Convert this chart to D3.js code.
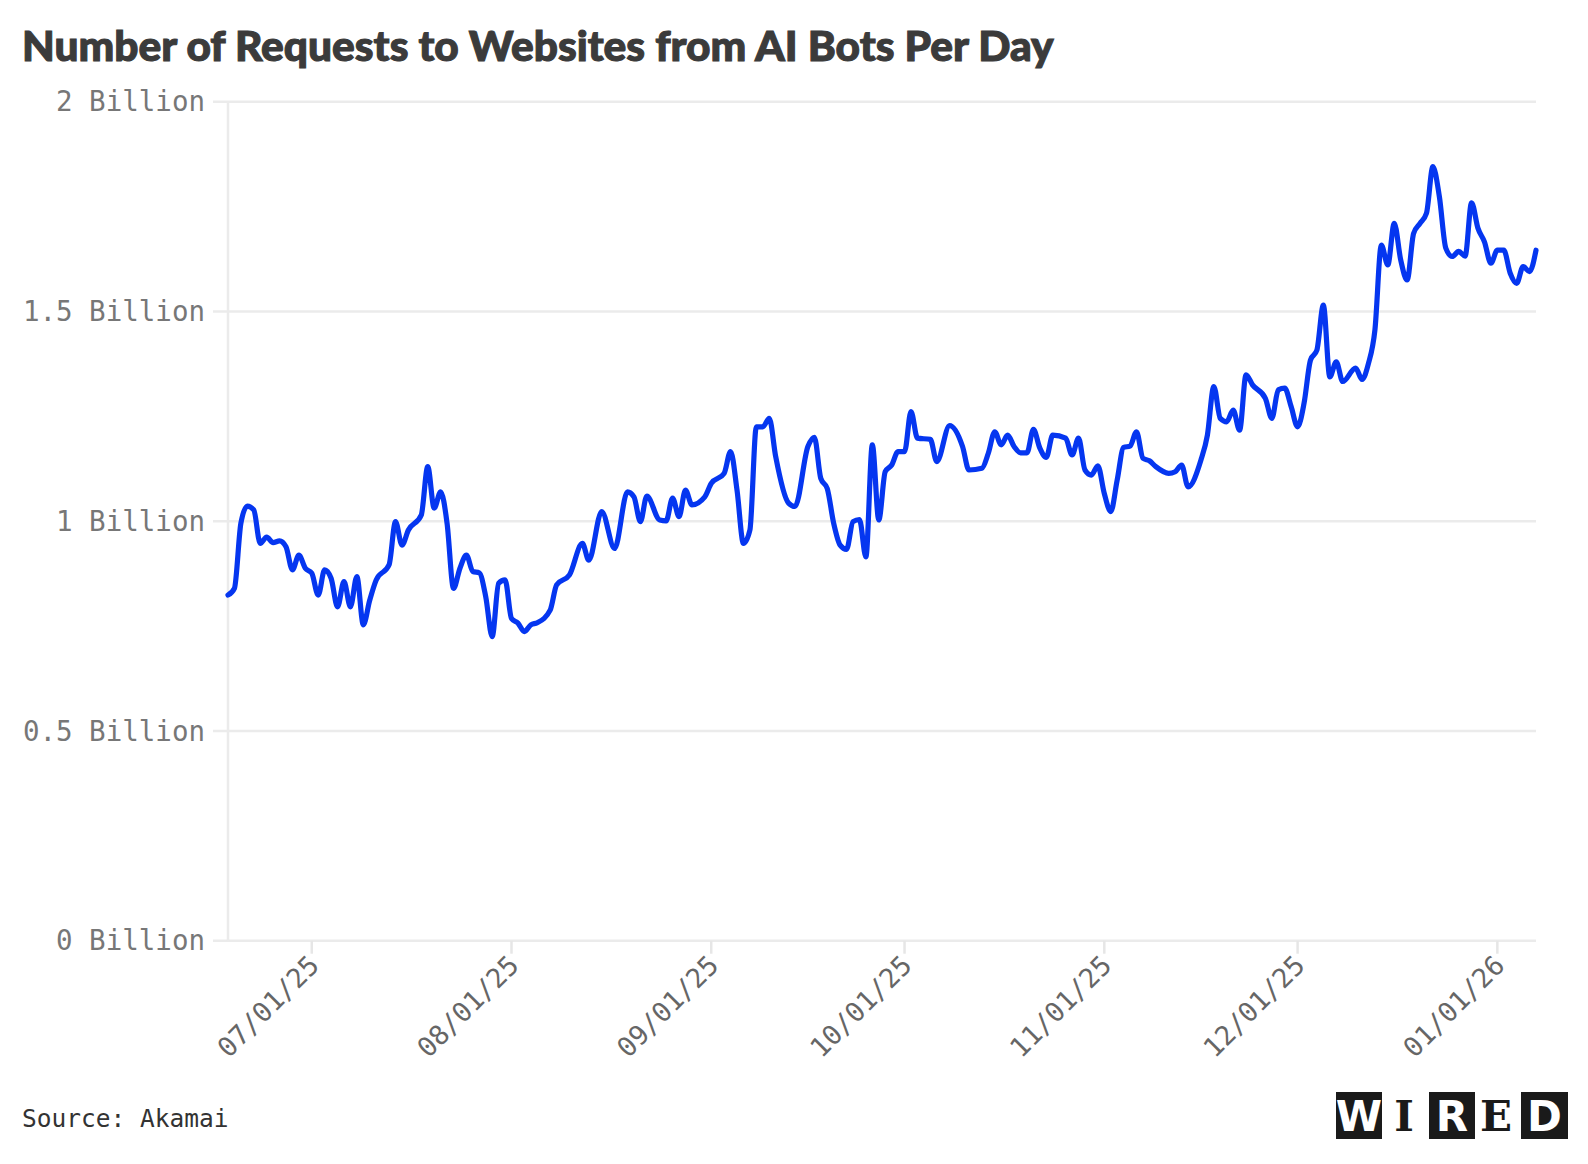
<!DOCTYPE html>
<html>
<head>
<meta charset="utf-8">
<script src="https://cdn.jsdelivr.net/npm/d3@7"></script>
<style>
    body { margin: 0; background: #fff; }
    .mono { font-family: "DejaVu Sans Mono", monospace; }
</style>
</head>
<body>
<div id="chart-area"></div>
<script>

// Data: requests per day (billions)
var dates = [
    "2025-06-18","2025-06-19","2025-06-20","2025-06-21","2025-06-22","2025-06-23","2025-06-24","2025-06-25",
    "2025-06-26","2025-06-27","2025-06-28","2025-06-29","2025-06-30","2025-07-01","2025-07-02","2025-07-03",
    "2025-07-04","2025-07-05","2025-07-06","2025-07-07","2025-07-08","2025-07-09","2025-07-10","2025-07-11",
    "2025-07-13","2025-07-14","2025-07-15","2025-07-16","2025-07-18","2025-07-19","2025-07-20","2025-07-21",
    "2025-07-22","2025-07-23","2025-07-24","2025-07-25","2025-07-26","2025-07-27","2025-07-28","2025-07-29",
    "2025-07-30","2025-07-31","2025-08-01","2025-08-02","2025-08-03","2025-08-04","2025-08-05","2025-08-07",
    "2025-08-08","2025-08-10","2025-08-12","2025-08-13","2025-08-15","2025-08-17","2025-08-19","2025-08-20",
    "2025-08-21","2025-08-22","2025-08-24","2025-08-25","2025-08-26","2025-08-27","2025-08-28","2025-08-29",
    "2025-08-31","2025-09-01","2025-09-03","2025-09-04","2025-09-05","2025-09-06","2025-09-07","2025-09-08",
    "2025-09-09","2025-09-10","2025-09-11","2025-09-13","2025-09-14","2025-09-16","2025-09-17","2025-09-18",
    "2025-09-19","2025-09-20","2025-09-21","2025-09-22","2025-09-23","2025-09-24","2025-09-25","2025-09-26",
    "2025-09-27","2025-09-28","2025-09-29","2025-09-30","2025-10-01","2025-10-02","2025-10-03","2025-10-05",
    "2025-10-06","2025-10-08","2025-10-10","2025-10-11","2025-10-13","2025-10-14","2025-10-15","2025-10-16",
    "2025-10-17","2025-10-18","2025-10-19","2025-10-20","2025-10-21","2025-10-22","2025-10-23","2025-10-24",
    "2025-10-26","2025-10-27","2025-10-28","2025-10-29","2025-10-30","2025-10-31","2025-11-01","2025-11-02",
    "2025-11-03","2025-11-04","2025-11-05","2025-11-06","2025-11-07","2025-11-08","2025-11-09","2025-11-11",
    "2025-11-12","2025-11-13","2025-11-14","2025-11-16","2025-11-17","2025-11-18","2025-11-19","2025-11-20",
    "2025-11-21","2025-11-22","2025-11-23","2025-11-24","2025-11-26","2025-11-27","2025-11-28","2025-11-29",
    "2025-11-30","2025-12-01","2025-12-02","2025-12-03","2025-12-04","2025-12-05","2025-12-06","2025-12-07",
    "2025-12-08","2025-12-10","2025-12-11","2025-12-12","2025-12-13","2025-12-14","2025-12-15","2025-12-16",
    "2025-12-17","2025-12-18","2025-12-19","2025-12-20","2025-12-21","2025-12-22","2025-12-23","2025-12-24",
    "2025-12-25","2025-12-26","2025-12-27","2025-12-28","2025-12-29","2025-12-30","2025-12-31","2026-01-01",
    "2026-01-02","2026-01-03","2026-01-04","2026-01-05","2026-01-06","2026-01-07"
];

var requestsBillions = [
    0.824,0.840,0.995,1.036,1.027,0.947,0.962,0.949,
    0.953,0.939,0.884,0.919,0.888,0.876,0.824,0.884,
    0.864,0.796,0.856,0.796,0.868,0.753,0.812,0.860,
    0.896,0.999,0.943,0.979,1.015,1.130,1.031,1.070,
    0.995,0.840,0.888,0.919,0.880,0.877,0.820,0.725,
    0.852,0.860,0.768,0.757,0.737,0.753,0.758,0.788,
    0.848,0.872,0.947,0.907,1.023,0.935,1.070,1.058,
    0.999,1.060,1.003,1.001,1.055,1.011,1.074,1.039,
    1.058,1.090,1.114,1.166,1.074,0.947,0.979,1.225,
    1.225,1.245,1.154,1.043,1.035,1.178,1.200,1.102,
    1.078,0.995,0.943,0.933,0.999,1.004,0.915,1.182,
    1.003,1.118,1.134,1.166,1.166,1.261,1.198,1.195,
    1.142,1.228,1.178,1.122,1.126,1.162,1.213,1.182,
    1.205,1.178,1.163,1.163,1.219,1.174,1.152,1.205,
    1.198,1.158,1.198,1.122,1.110,1.132,1.066,1.023,
    1.098,1.176,1.179,1.213,1.150,1.144,1.130,1.114,
    1.118,1.134,1.082,1.146,1.205,1.321,1.245,1.237,
    1.265,1.217,1.349,1.325,1.293,1.245,1.313,1.317,
    1.273,1.225,1.281,1.384,1.408,1.515,1.344,1.380,
    1.333,1.365,1.338,1.376,1.456,1.658,1.611,1.710,
    1.623,1.575,1.686,1.710,1.734,1.845,1.774,1.651,
    1.631,1.643,1.632,1.759,1.698,1.666,1.615,1.646,
    1.646,1.591,1.567,1.607,1.595,1.646
];

var yTicks = [0, 0.5, 1, 1.5, 2];
var xTickDates = ["2025-07-01","2025-08-01","2025-09-01","2025-10-01","2025-11-01","2025-12-01","2026-01-01"];

var titleText = "Number of Requests to Websites from AI Bots Per Day";
var sourceText = "Source: Akamai";
var logoLetters = ["W", "I", "R", "E", "D"];


var width = 1588, height = 1164;
var parseDate = d3.timeParse("%Y-%m-%d");
var formatDate = d3.timeFormat("%m/%d/%y");

var data = dates.map(function(d, i) {
    return { date: parseDate(d), value: requestsBillions[i] };
});

var svg = d3.select("#chart-area").append("svg")
    .attr("width", width)
    .attr("height", height);

// Title - fit to the width it has in the original, thin stroke for the heavier weight
var title = svg.append("text")
    .attr("x", 22)
    .attr("y", 61)
    .attr("fill", "#3b3b3b")
    .attr("stroke", "#3b3b3b")
    .attr("stroke-width", 1.1)
    .style("font-family", "Lato, 'Open Sans', sans-serif")
    .style("font-weight", 900)
    .style("font-size", "44px")
    .text(titleText);
var tw = title.node().getComputedTextLength();
title.style("font-size", (44 * 1032 / tw) + "px");

// Scales
var x = d3.scaleTime()
    .domain(d3.extent(data, function(d) { return d.date; }))
    .range([228, 1536]);

var y = d3.scaleLinear()
    .domain([0, 2])
    .range([940.7, 101.7]);

// Gridlines + y labels
var yAxis = svg.append("g").attr("class", "y-axis");

yAxis.selectAll("line.grid")
    .data(yTicks)
    .enter().append("line")
    .attr("class", "grid")
    .attr("x1", 213)
    .attr("x2", 1536)
    .attr("y1", function(d) { return y(d); })
    .attr("y2", function(d) { return y(d); })
    .attr("stroke", "#ebebeb")
    .attr("stroke-width", 2.5);

yAxis.selectAll("text")
    .data(yTicks)
    .enter().append("text")
    .attr("class", "mono")
    .attr("x", 205)
    .attr("y", function(d) { return y(d); })
    .attr("dy", "0.35em")
    .attr("text-anchor", "end")
    .attr("fill", "#777")
    .style("font-size", "27.5px")
    .text(function(d) { return d + " Billion"; });

// vertical axis line
svg.append("line")
    .attr("x1", 228).attr("x2", 228)
    .attr("y1", y(2)).attr("y2", y(0))
    .attr("stroke", "#ebebeb")
    .attr("stroke-width", 2.5);

// x ticks + rotated labels
var xAxis = svg.append("g").attr("class", "x-axis");
var xTicks = xTickDates.map(parseDate);

xAxis.selectAll("line")
    .data(xTicks)
    .enter().append("line")
    .attr("x1", function(d) { return x(d); })
    .attr("x2", function(d) { return x(d); })
    .attr("y1", y(0))
    .attr("y2", y(0) + 13)
    .attr("stroke", "#e6e6e6")
    .attr("stroke-width", 2.5);

xAxis.selectAll("text")
    .data(xTicks)
    .enter().append("text")
    .attr("class", "mono")
    .attr("text-anchor", "end")
    .attr("fill", "#666")
    .style("font-size", "27px")
    .attr("transform", function(d) {
        return "translate(" + (x(d) + 9) + "," + 967 + ") rotate(-45)";
    })
    .text(function(d) { return formatDate(d); });

// The line
var line = d3.line()
    .curve(d3.curveMonotoneX)
    .x(function(d) { return x(d.date); })
    .y(function(d) { return y(d.value); });

svg.append("path")
    .datum(data)
    .attr("d", line)
    .attr("fill", "none")
    .attr("stroke", "#0536f0")
    .attr("stroke-width", 5.2)
    .attr("stroke-linejoin", "round")
    .attr("stroke-linecap", "round");

// Source
svg.append("text")
    .attr("class", "mono")
    .attr("x", 22)
    .attr("y", 1127)
    .attr("fill", "#333")
    .style("font-size", "24.5px")
    .text(sourceText);

// WIRED logo: boxed W, R, D; plain I, E
var logoBoxes = [
    { x: 1336, w: 46, boxed: true },
    { x: 1391, w: 26, boxed: false },
    { x: 1429, w: 46, boxed: true },
    { x: 1481, w: 30, boxed: false },
    { x: 1521, w: 47, boxed: true }
];
var logo = svg.append("g").attr("class", "logo");

logo.selectAll("rect")
    .data(logoBoxes.filter(function(d) { return d.boxed; }))
    .enter().append("rect")
    .attr("x", function(d) { return d.x; })
    .attr("y", 1092)
    .attr("width", function(d) { return d.w; })
    .attr("height", 47)
    .attr("fill", "#1a1a1a");

logo.selectAll("text")
    .data(logoBoxes)
    .enter().append("text")
    .attr("x", function(d) { return d.x + d.w / 2; })
    .attr("y", 1131)
    .attr("text-anchor", "middle")
    .attr("fill", function(d) { return d.boxed ? "#fff" : "#1a1a1a"; })
    .style("font-family", function(d) { return d.boxed ? "'DejaVu Sans', sans-serif" : "'DejaVu Serif', serif"; })
    .style("font-weight", 700)
    .style("font-size", "42px")
    .text(function(d, i) { return logoLetters[i]; });

</script>
</body>
</html>
